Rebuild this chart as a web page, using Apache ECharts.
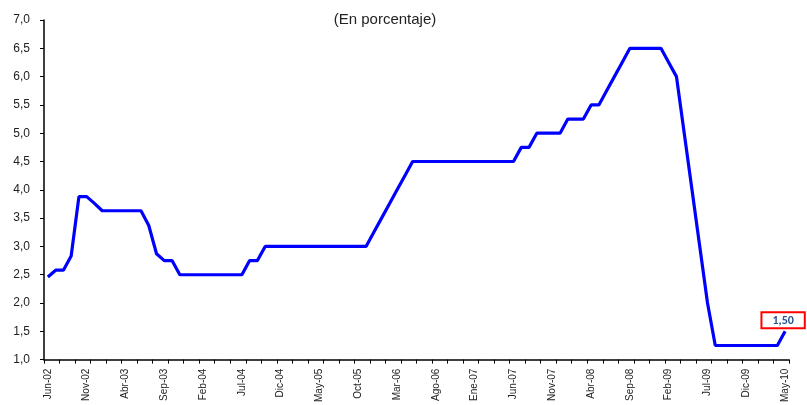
<!DOCTYPE html>
<html>
<head>
<meta charset="utf-8">
<script src="https://cdn.jsdelivr.net/npm/echarts@6/dist/echarts.min.js"></script>
<style>
html,body{margin:0;padding:0;background:#fff;}
#chart{width:807px;height:405px;}
</style>
</head>
<body>
<div id="chart"></div>
<script>
var titleText = '(En porcentaje)';
var categories = [
'Jun-02','Jul-02','Ago-02','Sep-02','Oct-02','Nov-02','Dic-02',
'Ene-03','Feb-03','Mar-03','Abr-03','May-03','Jun-03','Jul-03','Ago-03','Sep-03','Oct-03','Nov-03','Dic-03',
'Ene-04','Feb-04','Mar-04','Abr-04','May-04','Jun-04','Jul-04','Ago-04','Sep-04','Oct-04','Nov-04','Dic-04',
'Ene-05','Feb-05','Mar-05','Abr-05','May-05','Jun-05','Jul-05','Ago-05','Sep-05','Oct-05','Nov-05','Dic-05',
'Ene-06','Feb-06','Mar-06','Abr-06','May-06','Jun-06','Jul-06','Ago-06','Sep-06','Oct-06','Nov-06','Dic-06',
'Ene-07','Feb-07','Mar-07','Abr-07','May-07','Jun-07','Jul-07','Ago-07','Sep-07','Oct-07','Nov-07','Dic-07',
'Ene-08','Feb-08','Mar-08','Abr-08','May-08','Jun-08','Jul-08','Ago-08','Sep-08','Oct-08','Nov-08','Dic-08',
'Ene-09','Feb-09','Mar-09','Abr-09','May-09','Jun-09','Jul-09','Ago-09','Sep-09','Oct-09','Nov-09','Dic-09',
'Ene-10','Feb-10','Mar-10','Abr-10','May-10'
];
var rateValues = [
2.46,2.58,2.58,2.83,3.88,3.88,3.76,
3.63,3.63,3.63,3.63,3.63,3.63,3.37,2.87,2.75,2.75,2.5,2.5,
2.5,2.5,2.5,2.5,2.5,2.5,2.5,2.75,2.75,3.0,3.0,3.0,
3.0,3.0,3.0,3.0,3.0,3.0,3.0,3.0,3.0,3.0,3.0,3.25,
3.5,3.75,4.0,4.25,4.5,4.5,4.5,4.5,4.5,4.5,4.5,4.5,
4.5,4.5,4.5,4.5,4.5,4.5,4.75,4.75,5.0,5.0,5.0,5.0,
5.25,5.25,5.25,5.5,5.5,5.75,6.0,6.25,6.5,6.5,6.5,6.5,
6.5,6.25,6.0,5.0,4.0,3.0,2.0,1.25,1.25,1.25,1.25,1.25,
1.25,1.25,1.25,1.25,1.5
];
var labelText = '1,50';

var FONT = '"Liberation Sans", Arial, sans-serif';
var lastIdx = rateValues.length - 1;
var seriesData = rateValues.map(function (v, i) {
  if (i !== lastIdx) return v;
  return {
    value: v,
    label: {
      show: true,
      position: 'top',
      distance: 4,
      offset: [-2, 0],
      formatter: labelText,
      fontFamily: 'Carlito, Calibri, "Liberation Sans", sans-serif',
      fontWeight: 'bold',
      fontSize: 12,
      color: '#2A5490',
      backgroundColor: '#fff',
      borderColor: '#FF0000',
      borderWidth: 2,
      padding: [1, 10, 0, 10],
      lineHeight: 13
    }
  };
});

var chart = echarts.init(document.getElementById('chart'), null, {renderer: 'canvas'});
chart.setOption({
  animation: false,
  backgroundColor: '#fff',
  title: {
    text: titleText,
    left: 380,
    textAlign: 'center',
    top: 7,
    textStyle: {fontFamily: FONT, fontSize: 15, fontWeight: 'normal', color: '#222'}
  },
  grid: {left: 44, right: 18, top: 20, bottom: 42, containLabel: false},
  xAxis: {
    type: 'category',
    data: categories,
    boundaryGap: true,
    axisLine: {show: true, lineStyle: {color: '#000', width: 1.5}},
    axisTick: {show: true, interval: 1, length: 4, lineStyle: {color: '#000'}},
    axisLabel: {
      interval: 4, rotate: 90, margin: 9,
      fontFamily: FONT, fontSize: 10, color: '#222'
    },
    splitLine: {show: false}
  },
  yAxis: {
    type: 'value',
    min: 1, max: 7, interval: 0.5,
    axisLine: {show: true, lineStyle: {color: '#000', width: 1.5}},
    axisTick: {show: true, length: 4, lineStyle: {color: '#000'}},
    axisLabel: {
      margin: 14, fontFamily: FONT, fontSize: 12, color: '#222',
      formatter: function (v) { return v.toFixed(1).replace('.', ','); }
    },
    splitLine: {show: false}
  },
  series: [{
    type: 'line',
    data: seriesData,
    showSymbol: true,
    showAllSymbol: true,
    symbol: 'circle',
    symbolSize: 0,
    smooth: false,
    lineStyle: {color: '#0000FF', width: 3.2},
    itemStyle: {color: '#0000FF'},
    z: 3
  }]
});
</script>
</body>
</html>
